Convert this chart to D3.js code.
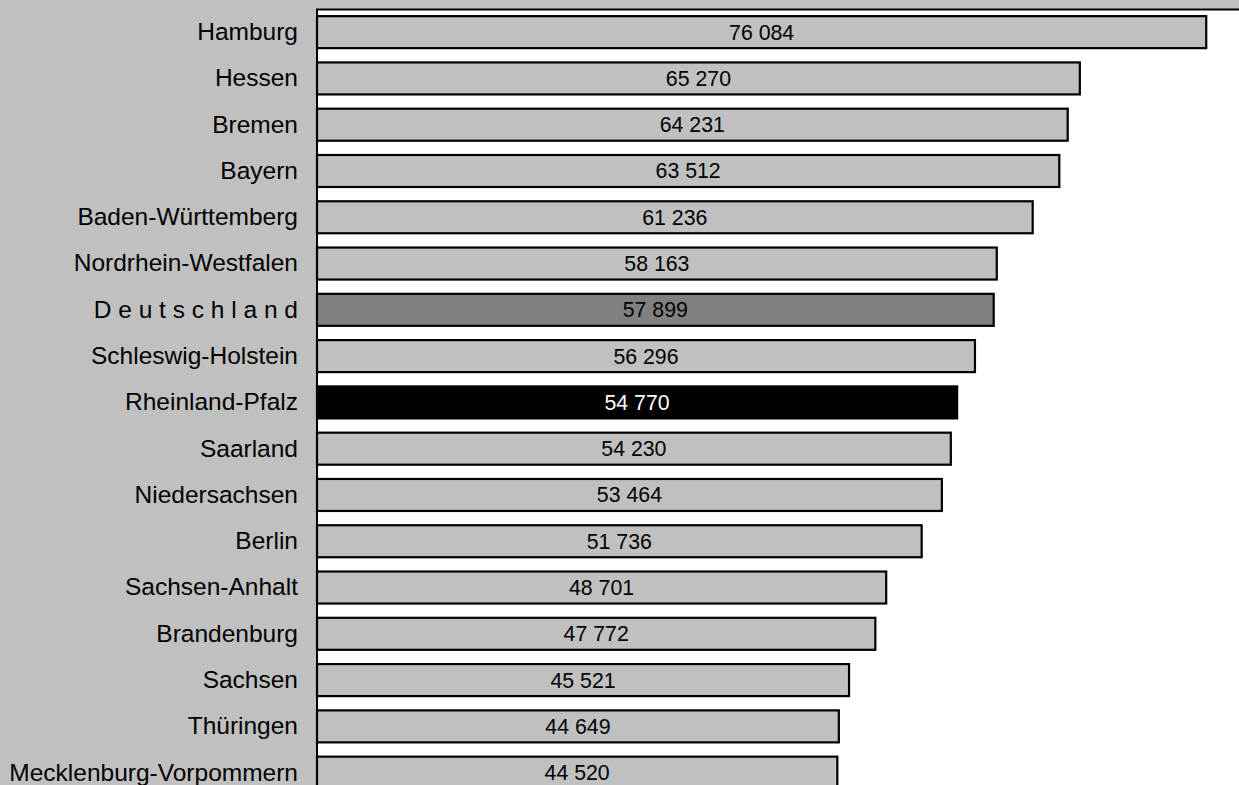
<!DOCTYPE html>
<html>
<head>
<meta charset="utf-8">
<script src="https://cdn.jsdelivr.net/npm/d3@7"></script>
<style>
  html, body { margin: 0; padding: 0; background: #c0c0c0; }
  svg { display: block; font-family: "Liberation Sans", Arial, sans-serif; }
</style>
</head>
<body>
<svg id="chart" width="1239" height="785"></svg>
<script>
// Bundesländer, sorted by value
const categories = [
  "Hamburg", "Hessen", "Bremen", "Bayern", "Baden-Württemberg",
  "Nordrhein-Westfalen", "D e u t s c h l a n d", "Schleswig-Holstein",
  "Rheinland-Pfalz", "Saarland", "Niedersachsen", "Berlin",
  "Sachsen-Anhalt", "Brandenburg", "Sachsen", "Thüringen",
  "Mecklenburg-Vorpommern"
];
const values = [
  76084, 65270, 64231, 63512, 61236, 58163, 57899, 56296,
  54770, 54230, 53464, 51736, 48701, 47772, 45521, 44649, 44520
];
const nationalLabel = "D e u t s c h l a n d";
const highlightLabel = "Rheinland-Pfalz";

const W = 1239, H = 785;
const plotLeft = 317, plotTop = 10;

const svg = d3.select("#chart");

// grey page, white plot area
svg.append("rect").attr("x", 0).attr("y", 0).attr("width", W).attr("height", H).attr("fill", "#c0c0c0");
svg.append("rect").attr("x", plotLeft).attr("y", plotTop)
  .attr("width", W - plotLeft).attr("height", H - plotTop).attr("fill", "#ffffff");

const x = d3.scaleLinear().domain([0, 80000]).range([plotLeft, 1252]);
const y = d3.scaleBand().domain(categories).range([9, 795.8])
  .paddingInner(0.3086).paddingOuter(0.1543);

const fmt = d3.formatLocale({ decimal: ",", thousands: " ", grouping: [3], currency: ["", " €"] }).format(",d");

const rows = categories.map((c, i) => ({ name: c, value: values[i] }));

const fillOf = d => d.name === nationalLabel ? "#808080" : d.name === highlightLabel ? "#000000" : "#c0c0c0";

svg.append("g").selectAll("rect").data(rows).join("rect")
  .attr("x", x(0))
  .attr("y", d => y(d.name))
  .attr("width", d => x(d.value) - x(0))
  .attr("height", y.bandwidth())
  .attr("fill", fillOf)
  .attr("stroke", "#000")
  .attr("stroke-width", 2.2);

// value labels centred in the bars
svg.append("g").selectAll("text").data(rows).join("text")
  .attr("x", d => (x(0) + x(d.value)) / 2)
  .attr("y", d => y(d.name) + y.bandwidth() / 2)
  .attr("dy", "0.35em")
  .attr("text-anchor", "middle")
  .attr("font-size", 21.3)
  .attr("fill", d => d.name === highlightLabel ? "#fff" : "#000")
  .text(d => fmt(d.value));

// category axis on the left
const yAxis = d3.axisLeft(y).tickSize(0).tickPadding(19);
const gy = svg.append("g").attr("transform", `translate(${plotLeft},0)`).call(yAxis);
gy.select(".domain").remove();
gy.selectAll("text")
  .attr("font-size", 24.5)
  .attr("font-family", "'Liberation Sans', Arial, sans-serif")
  .attr("fill", "#000");

// plot frame: left and top edges
svg.append("path")
  .attr("d", `M${plotLeft},${H} V${plotTop - 0.5} H${W}`)
  .attr("fill", "none")
  .attr("stroke", "#000")
  .attr("stroke-width", 2);
</script>
</body>
</html>
